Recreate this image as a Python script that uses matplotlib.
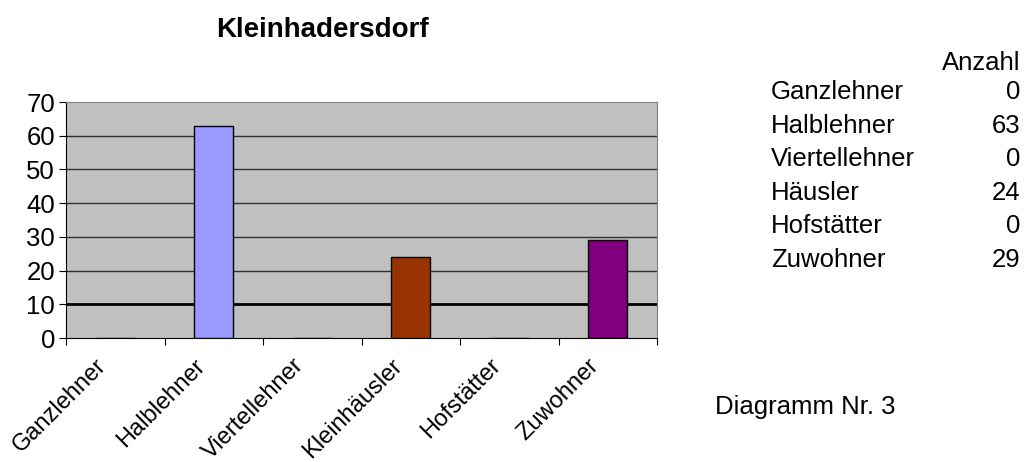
import matplotlib.pyplot as plt
import matplotlib.transforms as mtransforms
import numpy as np

plt.rcParams['font.family'] = ['Liberation Sans', 'DejaVu Sans']

categories = ["Ganzlehner", "Halblehner", "Viertellehner", "Kleinhäusler", "Hofstätter", "Zuwohner"]
counts = [0, 63, 0, 24, 0, 29]
bar_colors = ["#9999FF", "#9999FF", "#9999FF", "#993300", "#993300", "#800080"]

table_names = ["Ganzlehner", "Halblehner", "Viertellehner", "Häusler", "Hofstätter", "Zuwohner"]
table_values = [0, 63, 0, 24, 0, 29]

FS = 18.5

fig = plt.figure(figsize=(10.24, 4.62), dpi=100)
ax = fig.add_axes([66 / 1024, 1 - 338 / 462, (657 - 66) / 1024, (338 - 102) / 462])
ax.set_facecolor("#C0C0C0")

x = np.arange(len(categories))
ax.bar(x, counts, width=0.4, color=bar_colors, edgecolor="black", linewidth=1, zorder=3)

ax.set_xlim(-0.5, len(categories) - 0.5)
ax.set_ylim(0, 70)
ax.set_yticks(range(0, 71, 10))
for v in range(10, 70, 10):
    if v == 10:
        ax.axhline(v, color="black", linewidth=2, zorder=2)
    else:
        ax.axhline(v, color="#303030", linewidth=1, zorder=2)

# ticks sit between categories, labels at centres
ax.set_xticks(np.arange(-0.5, len(categories), 1.0))
ax.set_xticklabels([])
ax.set_xticks(x, minor=True)
ax.set_xticklabels(categories, minor=True, rotation=45, ha="right", rotation_mode="anchor", fontsize=17)
ax.tick_params(axis="x", which="minor", length=0, pad=12)
ax.tick_params(axis="x", which="major", direction="out", length=5, color="black")
ax.tick_params(axis="y", direction="out", length=5, labelsize=FS, pad=3)

# nudge rotated labels to the left like the original
shift = mtransforms.ScaledTranslation(-0.2, 0, fig.dpi_scale_trans)
for lbl in ax.get_xticklabels(minor=True):
    lbl.set_transform(lbl.get_transform() + shift)

for s in ["top", "right"]:
    ax.spines[s].set_color("#808080")
for s in ["left", "bottom"]:
    ax.spines[s].set_color("black")

fig.text(323 / 1024, 1 - 30 / 462, "Kleinhadersdorf", fontsize=20, fontweight="bold", ha="center", va="center")

fig.text(1020 / 1024, 1 - 63 / 462, "Anzahl", fontsize=FS, ha="right", va="center")
for i, (name, val) in enumerate(zip(table_names, table_values)):
    y = 1 - (92 + i * 33.6) / 462
    fig.text(771 / 1024, y, name, fontsize=FS, ha="left", va="center")
    fig.text(1020 / 1024, y, str(val), fontsize=FS, ha="right", va="center")

fig.text(715 / 1024, 1 - 407 / 462, "Diagramm Nr. 3", fontsize=FS, ha="left", va="center")

fig.savefig("out.png", dpi=100)
